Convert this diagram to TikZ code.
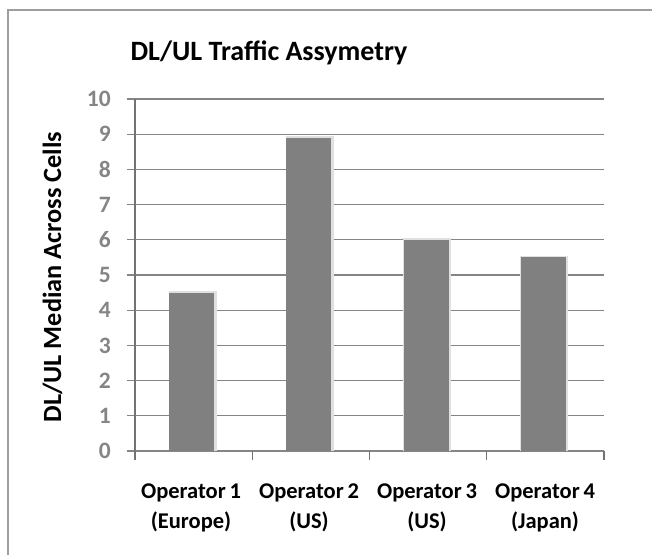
\documentclass[tikz,border=0pt]{standalone}
\usepackage{fontspec}
\setmainfont{Carlito}
\tikzset{
  frameline/.style={draw=black!38, line width=1.2pt},
  gridline/.style={draw=black!48, line width=1.3pt},
  axisline/.style={draw=black!55, line width=1.3pt},
  barfill/.style={fill=black!50, draw=none},
  barglow/.style={fill=black!12, draw=none},
  ticklabel/.style={font=\bfseries\fontsize{23.5}{26}\selectfont, text=black!48, anchor=east, inner sep=0pt},
  catlabel/.style={font=\bfseries\fontsize{22.5}{30}\selectfont, align=center, anchor=base, inner sep=0pt},
  titlelabel/.style={font=\bfseries\fontsize{28}{30}\selectfont, anchor=base, inner sep=0pt},
  axistitle/.style={font=\bfseries\fontsize{26.3}{28}\selectfont, rotate=90, anchor=base, inner sep=0pt}
}
\begin{document}
\begin{tikzpicture}[x=1pt,y=-1pt]
\useasboundingbox (0,0) rectangle (652,555);
% outer chart frame (only top and left edges fall inside the page)
\draw[frameline] (8,555) -- (8,10) -- (652,10);
% title
\node[titlelabel] (title) at (269,60.5) {DL/UL Traffic Assymetry};
% value axis title
\node[axistitle] (ytitle) at (61,277) {DL/UL Median Across Cells};
% horizontal gridlines with tick stubs and value labels
\foreach \v in {0,...,10}{
  \pgfmathsetmacro{\yy}{451-35.2*\v}
  \draw[gridline] (127,\yy) -- (604,\yy);
  \node[ticklabel] (tick\v) at (111,\yy) {\v};
}
% value axis
\draw[axisline] (135,99) -- (135,460);
% category ticks
\foreach \i in {1,...,4}{
  \pgfmathsetmacro{\xx}{135+117.25*\i}
  \draw[axisline] (\xx,451) -- (\xx,460);
}
% bars
\foreach \i/\val in {0/4.5,1/8.9,2/6.0,3/5.5}{
  \pgfmathsetmacro{\cx}{135+117.25*\i+56.6}
  \pgfmathsetmacro{\top}{451-35.2*\val}
  \fill[barglow] (\cx-23,\top-1.5) rectangle (\cx+25,451);
  \fill[barfill] (\cx-22.5,\top) rectangle (\cx+22.5,451);
}
% category labels (two lines each; the base anchor sits on the second line)
\node[catlabel] (cat1) at (191,528) {Operator\,1\\(Europe)};
\node[catlabel] (cat2) at (309,528) {Operator\,2\\(US)};
\node[catlabel] (cat3) at (427,528) {Operator\,3\\(US)};
\node[catlabel] (cat4) at (545,528) {Operator\,4\\(Japan)};
\end{tikzpicture}
\end{document}
